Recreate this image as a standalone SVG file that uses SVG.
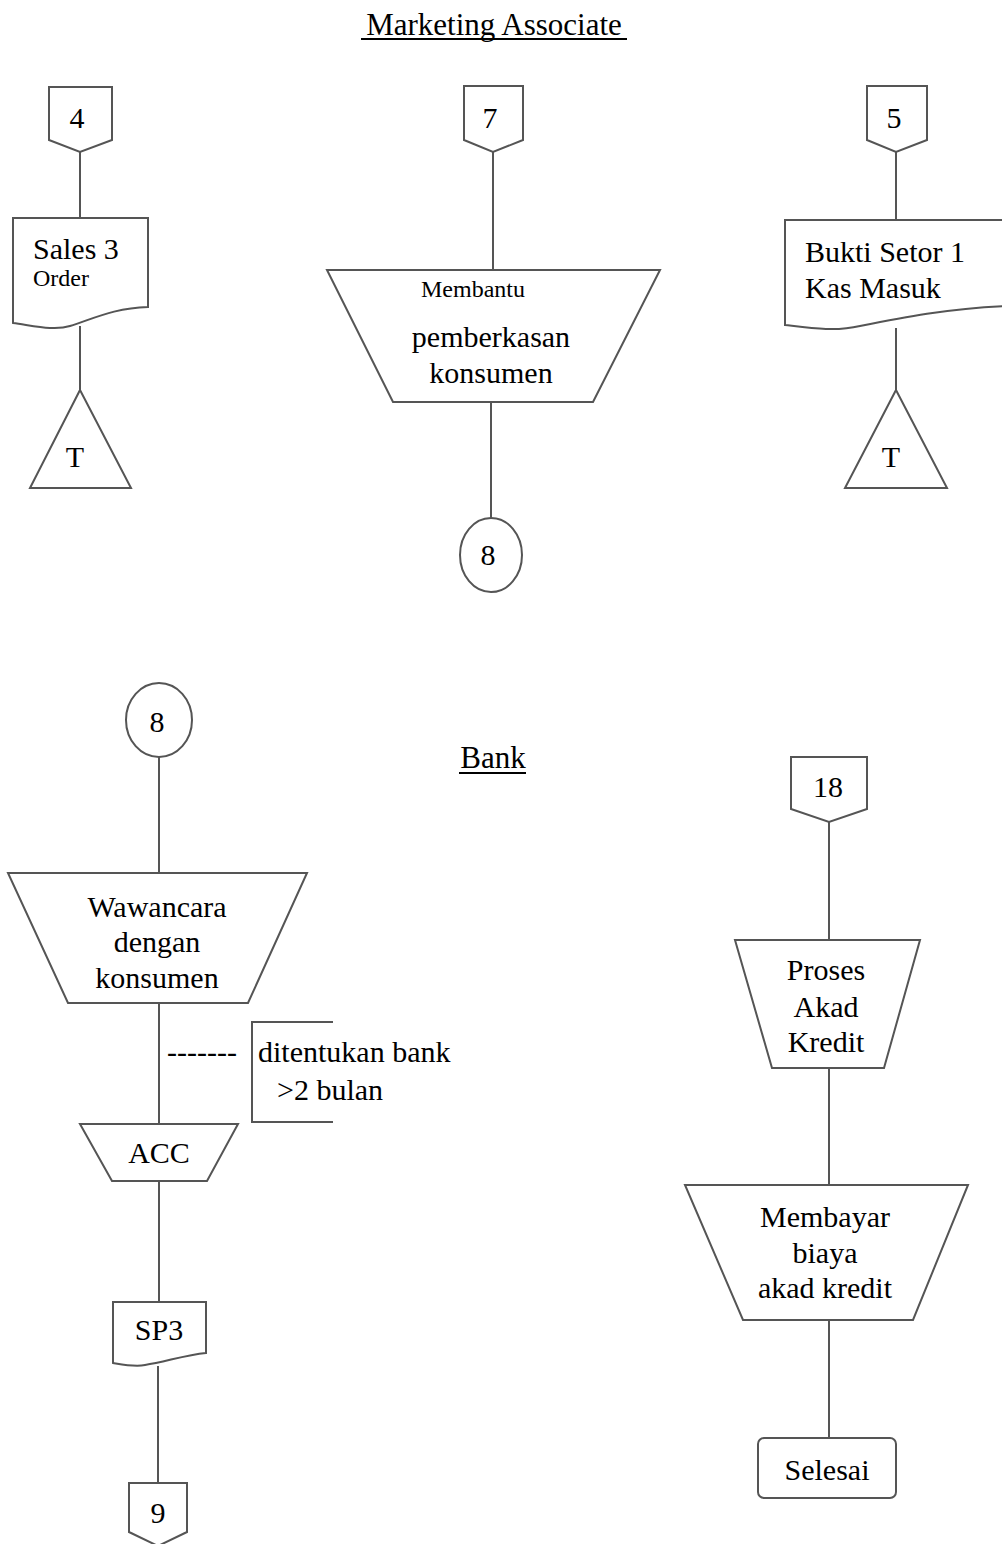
<svg xmlns="http://www.w3.org/2000/svg" width="1002" height="1544" viewBox="0 0 1002 1544">
  <style>
    .shape { fill: #fff; stroke: #555; stroke-width: 2; stroke-linejoin: miter; }
    .link { stroke: #555; stroke-width: 2; fill: none; }
    .ul { stroke: #000; stroke-width: 2; }
    text { font-family: "Liberation Serif", "Times New Roman", serif; font-size: 30px; fill: #000; }
    .c { text-anchor: middle; }
    .sm { font-size: 24px; }
    .title { font-size: 31px; }
  </style>
  <rect width="1002" height="1544" fill="#fff"/>

  <!-- connectors -->
  <g id="connectors">
    <line class="link" x1="80" y1="152" x2="80" y2="218"/>
    <line class="link" x1="80" y1="326" x2="80" y2="390"/>
    <line class="link" x1="493" y1="152" x2="493" y2="270"/>
    <line class="link" x1="491" y1="402" x2="491" y2="518"/>
    <line class="link" x1="896" y1="152" x2="896" y2="220"/>
    <line class="link" x1="896" y1="328" x2="896" y2="390"/>
    <line class="link" x1="159" y1="757" x2="159" y2="873"/>
    <line class="link" x1="159" y1="1003" x2="159" y2="1124"/>
    <line class="link" x1="159" y1="1181" x2="159" y2="1302"/>
    <line class="link" x1="158" y1="1366" x2="158" y2="1483"/>
    <line class="link" x1="829" y1="822" x2="829" y2="940"/>
    <line class="link" x1="829" y1="1068" x2="829" y2="1185"/>
    <line class="link" x1="829" y1="1320" x2="829" y2="1438"/>
  </g>

  <!-- section titles -->
  <g id="title-marketing">
    <text class="title c" x="494" y="35">Marketing Associate</text>
    <line class="ul" x1="361" y1="39" x2="627" y2="39"/>
  </g>
  <g id="title-bank">
    <text class="title c" x="493" y="768">Bank</text>
    <line class="ul" x1="459" y1="773" x2="526" y2="773"/>
  </g>

  <!-- Marketing Associate column 1 -->
  <g id="off-4">
    <polygon class="shape" points="49,87 112,87 112,140 80,152 49,140"/>
    <text class="c" x="77" y="128">4</text>
  </g>
  <g id="doc-sales-order">
    <path class="shape" d="M13,218 H148 V307 C115,308 95,318 70,326 C55,331 35,326 13,323 Z"/>
    <text x="33" y="259">Sales 3</text>
    <text class="sm" x="33" y="286">Order</text>
  </g>
  <g id="store-t1">
    <polygon class="shape" points="80,390 131,488 30,488"/>
    <text class="c" x="75" y="467">T</text>
  </g>

  <!-- Marketing Associate column 2 -->
  <g id="off-7">
    <polygon class="shape" points="464,86 523,86 523,140 493,152 464,140"/>
    <text class="c" x="490" y="128">7</text>
  </g>
  <g id="manual-membantu">
    <polygon class="shape" points="327,270 660,270 593,402 393,402"/>
    <text class="sm c" x="473" y="297">Membantu</text>
    <text class="c" x="491" y="347">pemberkasan</text>
    <text class="c" x="491" y="383">konsumen</text>
  </g>
  <g id="conn-8-out">
    <ellipse class="shape" cx="491" cy="555" rx="31" ry="37"/>
    <text class="c" x="488" y="565">8</text>
  </g>

  <!-- Marketing Associate column 3 -->
  <g id="off-5">
    <polygon class="shape" points="867,86 927,86 927,140 896,152 867,140"/>
    <text class="c" x="894" y="128">5</text>
  </g>
  <g id="doc-bukti-setor">
    <path class="shape" d="M785,220 H1006 V306 C950,308 900,318 860,326 C835,332 810,328 785,325 Z"/>
    <text x="805" y="262">Bukti Setor 1</text>
    <text x="805" y="298">Kas Masuk</text>
  </g>
  <g id="store-t2">
    <polygon class="shape" points="896,390 947,488 845,488"/>
    <text class="c" x="891" y="467">T</text>
  </g>

  <!-- Bank column 1 -->
  <g id="conn-8-in">
    <ellipse class="shape" cx="159" cy="720" rx="33" ry="37"/>
    <text class="c" x="157" y="732">8</text>
  </g>
  <g id="manual-wawancara">
    <polygon class="shape" points="8,873 307,873 248,1003 68,1003"/>
    <text class="c" x="157" y="917">Wawancara</text>
    <text class="c" x="157" y="952">dengan</text>
    <text class="c" x="157" y="988">konsumen</text>
  </g>
  <g id="note-waktu">
    <text x="167" y="1062">-------</text>
    <path class="link" d="M333,1022 H252 V1122 H333"/>
    <text x="258" y="1062">ditentukan bank</text>
    <text x="277" y="1100">&gt;2 bulan</text>
  </g>
  <g id="manual-acc">
    <polygon class="shape" points="80,1124 238,1124 207,1181 112,1181"/>
    <text class="c" x="159" y="1163">ACC</text>
  </g>
  <g id="doc-sp3">
    <path class="shape" d="M113,1302 H206 V1353 C185,1355 165,1362 145,1365 C135,1367 125,1365 113,1363 Z"/>
    <text class="c" x="159" y="1340">SP3</text>
  </g>
  <g id="off-9">
    <polygon class="shape" points="129,1483 187,1483 187,1532 158,1546 129,1532"/>
    <text class="c" x="158" y="1523">9</text>
  </g>

  <!-- Bank column 2 -->
  <g id="off-18">
    <polygon class="shape" points="791,757 867,757 867,809 829,822 791,809"/>
    <text class="c" x="828" y="797">18</text>
  </g>
  <g id="manual-akad">
    <polygon class="shape" points="735,940 920,940 884,1068 772,1068"/>
    <text class="c" x="826" y="980">Proses</text>
    <text class="c" x="826" y="1017">Akad</text>
    <text class="c" x="826" y="1052">Kredit</text>
  </g>
  <g id="manual-membayar">
    <polygon class="shape" points="685,1185 968,1185 913,1320 743,1320"/>
    <text class="c" x="825" y="1227">Membayar</text>
    <text class="c" x="825" y="1263">biaya</text>
    <text class="c" x="825" y="1298">akad kredit</text>
  </g>
  <g id="term-selesai">
    <rect class="shape" x="758" y="1438" width="138" height="60" rx="6"/>
    <text class="c" x="827" y="1480">Selesai</text>
  </g>
</svg>
